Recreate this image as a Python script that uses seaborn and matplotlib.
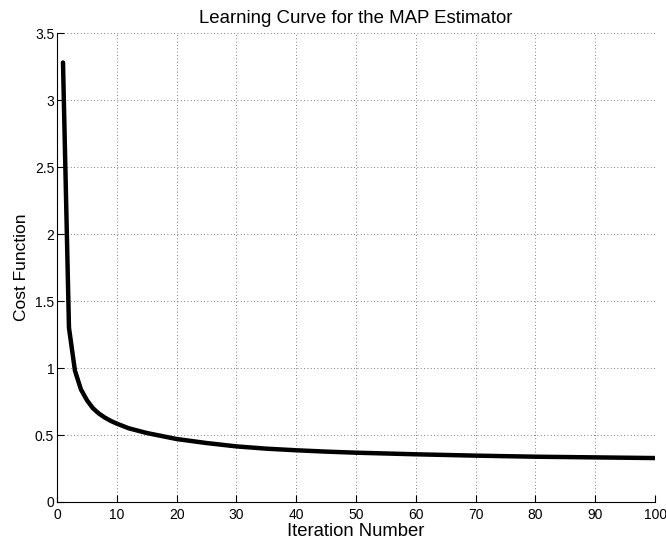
import matplotlib
matplotlib.use("Agg")
import matplotlib.pyplot as plt
import seaborn as sns
import pandas as pd

iterations = [1, 2, 3, 4, 5, 6, 7, 8, 9, 10, 12, 15, 20, 25, 30, 35, 40, 45, 50, 60, 70, 80, 90, 100]
cost = [3.28, 1.30, 0.98, 0.84, 0.76, 0.70, 0.66, 0.63, 0.605, 0.585, 0.55, 0.515, 0.47, 0.44, 0.415, 0.398, 0.386, 0.376, 0.368, 0.356, 0.346, 0.338, 0.333, 0.328]

x_ticks = list(range(0, 101, 10))
y_ticks = [0, 0.5, 1, 1.5, 2, 2.5, 3, 3.5]
y_tick_labels = ["0", "0.5", "1", "1.5", "2", "2.5", "3", "3.5"]

sns.set_theme(style="white")
plt.rcParams['font.family'] = ['Liberation Sans', 'DejaVu Sans']

df = pd.DataFrame({"Iteration": iterations, "Cost": cost})

fig = plt.figure(figsize=(6.66, 5.45), dpi=100)
ax = fig.add_axes([0.0856, 0.0789, 0.898, 0.8605])
sns.lineplot(data=df, x="Iteration", y="Cost", ax=ax, color="black", linewidth=3.2)

ax.set_xlim(0, 100)
ax.set_ylim(0, 3.5)
ax.set_xticks(x_ticks)
ax.set_xticklabels([str(t) for t in x_ticks])
ax.set_yticks(y_ticks)
ax.set_yticklabels(y_tick_labels)
ax.grid(True, linestyle=(0, (1, 3)), color="#555555", linewidth=0.6)
ax.tick_params(direction="in", length=5, width=0.8, labelsize=10, colors="black",
               bottom=True, left=True, top=False, right=False)
ax.tick_params(axis="x", pad=4)
ax.tick_params(axis="y", pad=2)
for s in ["top", "right"]:
    ax.spines[s].set_visible(False)
for s in ["left", "bottom"]:
    ax.spines[s].set_color("black")
    ax.spines[s].set_linewidth(0.8)

ax.set_xlabel("Iteration Number", fontsize=13.3, color="black", labelpad=1)
ax.set_ylabel("Cost Function", fontsize=12.5, color="black", labelpad=4)
ax.set_title("Learning Curve for the MAP Estimator", fontsize=13.4, color="black", pad=7)

fig.savefig("out.png", dpi=100)
